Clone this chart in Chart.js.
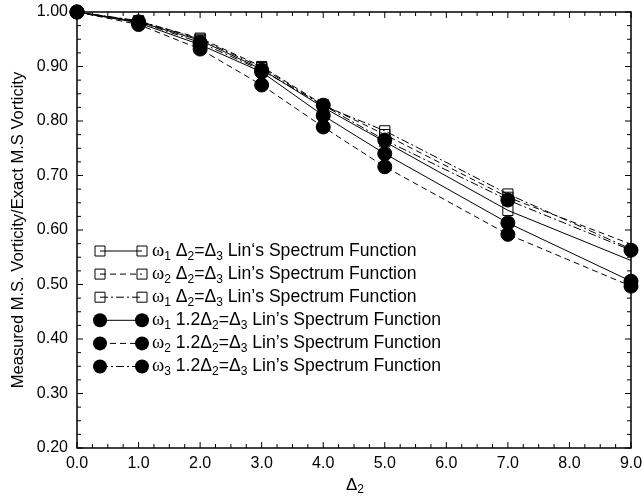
<!DOCTYPE html>
<html>
<head>
<meta charset="utf-8">
<script src="https://cdn.jsdelivr.net/npm/chart.js@4.4.1/dist/chart.umd.min.js"></script>
<style>
  html,body{margin:0;padding:0;background:#fff;}
</style>
</head>
<body>
<canvas id="chart" width="642" height="502"></canvas>
<script>
// x positions (Delta_2)
const delta2 = [0, 1, 2, 3, 4, 5, 7, 9];

// square markers, Delta2 = Delta3
const sqW1Solid   = [1.000, 0.982, 0.948, 0.895, 0.825, 0.762, 0.636, 0.544];
const sqW2Dashed  = [1.000, 0.983, 0.952, 0.900, 0.830, 0.775, 0.660, 0.574];
const sqW1DashDot = [1.000, 0.984, 0.950, 0.898, 0.828, 0.782, 0.666, 0.565];

// circle markers, 1.2 Delta2 = Delta3
const ciW1Solid   = [1.000, 0.980, 0.940, 0.890, 0.810, 0.740, 0.613, 0.506];
const ciW2Dashed  = [1.000, 0.977, 0.932, 0.866, 0.789, 0.716, 0.592, 0.497];
const ciW3DashDot = [1.000, 0.982, 0.944, 0.893, 0.829, 0.765, 0.655, 0.563];

// legend labels ("_n" = subscript)
const labels = [
  'ω_1 Δ_2=Δ_3 Lin‘s Spectrum Function',
  'ω_2 Δ_2=Δ_3 Lin’s Spectrum Function',
  'ω_1 Δ_2=Δ_3 Lin’s Spectrum Function',
  'ω_1 1.2Δ_2=Δ_3 Lin’s Spectrum Function',
  'ω_2 1.2Δ_2=Δ_3 Lin’s Spectrum Function',
  'ω_3 1.2Δ_2=Δ_3 Lin’s Spectrum Function'
];

const xTicks = [0,1,2,3,4,5,6,7,8,9];
const yTicks = [0.2,0.3,0.4,0.5,0.6,0.7,0.8,0.9,1.0];

const SOLID = [], DASH = [6,4], DASHDOT = [8,3,2,3];

function mk(vals, label, dash, style){
  // square markers at the right edge are not shown in the original
  const r = style==='circle' ? 7 : 7.2;
  return {
    label,
    data: vals.map((v,i)=>({x: delta2[i], y: v})),
    borderColor: '#000',
    borderWidth: 1,
    borderDash: dash,
    pointStyle: style,
    pointRadius: vals.map((v,i)=> (style==='rect' && delta2[i]===9) ? 0 : r),
    pointBorderWidth: 1,
    pointBackgroundColor: style==='circle' ? '#000' : 'rgba(0,0,0,0)',
    pointBorderColor: '#000',
    showLine: true,
    tension: 0,
    clip: false
  };
}

const datasets = [
  mk(sqW1Solid,   labels[0], SOLID,   'rect'),
  mk(sqW2Dashed,  labels[1], DASH,    'rect'),
  mk(sqW1DashDot, labels[2], DASHDOT, 'rect'),
  mk(ciW1Solid,   labels[3], SOLID,   'circle'),
  mk(ciW2Dashed,  labels[4], DASH,    'circle'),
  mk(ciW3DashDot, labels[5], DASHDOT, 'circle')
];

const SANS = '"Liberation Sans", Arial, sans-serif';
const SERIF = '"Liberation Serif", "Times New Roman", serif';

// text with "_n" subscripts, omega in serif
function drawRich(ctx, str, x, y, size){
  const parts = str.split(/(_\d)/);
  ctx.textBaseline = 'middle';
  ctx.textAlign = 'left';
  for(const p of parts){
    if(!p) continue;
    if(p[0]==='_'){
      ctx.font = `${Math.round(size*0.68)}px ${SANS}`;
      ctx.fillText(p.slice(1), x, y + size*0.3);
      x += ctx.measureText(p.slice(1)).width;
    } else {
      for(const ch of p){
        ctx.font = ch==='ω' ? `${size+1}px ${SERIF}` : `${size}px ${SANS}`;
        ctx.fillText(ch, x, y);
        x += ctx.measureText(ch).width;
      }
    }
  }
  return x;
}

function drawMarker(ctx, style, x, y){
  ctx.setLineDash([]);
  ctx.beginPath();
  if(style==='circle'){
    ctx.arc(x, y, 7, 0, Math.PI*2);
    ctx.fillStyle='#000'; ctx.fill();
  } else {
    ctx.rect(x-5, y-5, 10, 10);
    ctx.strokeStyle='#000'; ctx.lineWidth=1; ctx.stroke();
  }
}

const framePlugin = {
  id: 'frame',
  beforeDatasetsDraw(chart){
    const {ctx, chartArea:a, scales:{x, y}} = chart;
    ctx.save();
    ctx.strokeStyle = '#000';
    ctx.lineWidth = 1.5;
    ctx.strokeRect(a.left, a.top, a.right-a.left, a.bottom-a.top);
    ctx.lineWidth = 1;
    ctx.beginPath();
    for(let i=0;i<=36;i++){
      const px = x.getPixelForValue(i*0.25);
      const L = i%4===0 ? 6 : 4;
      ctx.moveTo(px, a.bottom); ctx.lineTo(px, a.bottom-L);
      ctx.moveTo(px, a.top); ctx.lineTo(px, a.top+L);
    }
    for(let i=0;i<=32;i++){
      const py = y.getPixelForValue(0.2 + i*0.025);
      const L = i%4===0 ? 6 : 4;
      ctx.moveTo(a.left, py); ctx.lineTo(a.left+L, py);
      ctx.moveTo(a.right, py); ctx.lineTo(a.right-L, py);
    }
    ctx.stroke();
    ctx.restore();
  },
  afterDatasetsDraw(chart){
    const {ctx, chartArea:a} = chart;
    ctx.save();
    ctx.fillStyle = '#000';
    // x axis title
    const cx = (a.left + a.right)/2;
    drawRich(ctx, 'Δ_2', cx - 8, 485, 17);
    // legend
    chart.data.datasets.forEach((ds, i)=>{
      const yy = 251 + i*23.1;
      ctx.strokeStyle = '#000';
      ctx.lineWidth = 1;
      ctx.setLineDash(ds.borderDash);
      ctx.beginPath(); ctx.moveTo(100, yy); ctx.lineTo(142, yy); ctx.stroke();
      drawMarker(ctx, ds.pointStyle, 100, yy);
      drawMarker(ctx, ds.pointStyle, 142, yy);
      ctx.fillStyle = '#000';
      drawRich(ctx, ds.label, 152, yy, 17.6);
    });
    ctx.restore();
  }
};

new Chart(document.getElementById('chart'), {
  type: 'scatter',
  data: { datasets },
  options: {
    responsive: false,
    animation: false,
    layout: { padding: { top: 12, right: 11, left: 0, bottom: 0 } },
    plugins: { legend: { display: false }, tooltip: { enabled: false } },
    scales: {
      x: {
        type: 'linear', min: 0, max: 9,
        afterBuildTicks: s => { s.ticks = xTicks.map(v=>({value:v})); },
        afterFit: s => { s.height = 54; s.paddingLeft = 0; s.paddingRight = 0; },
        grid: { display: false, drawTicks: false },
        border: { display: false },
        ticks: { color: '#000', padding: 6, maxRotation: 0, font: { size: 16, family: SANS },
                 callback: v => Number(v).toFixed(1) }
      },
      y: {
        type: 'linear', min: 0.2, max: 1.0,
        afterBuildTicks: s => { s.ticks = yTicks.map(v=>({value:v})); },
        afterFit: s => { s.width = 77; s.paddingTop = 0; s.paddingBottom = 0; },
        grid: { display: false, drawTicks: false },
        border: { display: false },
        title: { display: true, text: 'Measured M.S. Vorticity/Exact M.S Vorticity', color: '#000',
                 font: { size: 16.5, family: SANS }, padding: { top: 9, bottom: 0 } },
        ticks: { color: '#000', padding: 9, font: { size: 16, family: SANS },
                 callback: v => Number(v).toFixed(2) }
      }
    }
  },
  plugins: [framePlugin]
});
</script>
</body>
</html>
